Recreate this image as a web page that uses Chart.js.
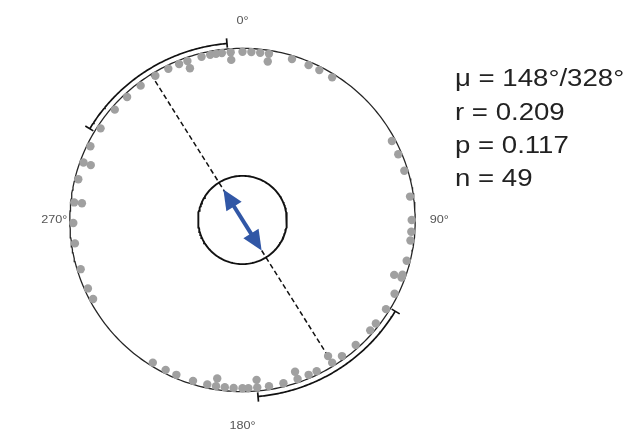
<!DOCTYPE html>
<html>
<head>
<meta charset="utf-8">
<script src="https://cdn.jsdelivr.net/npm/chart.js@4.4.1/dist/chart.umd.min.js"></script>
<style>
  html, body { margin: 0; padding: 0; background: #fff; overflow: hidden; }
  canvas { display: block; }
</style>
</head>
<body>
<canvas id="c" width="633" height="439"></canvas>
<script>
// Orientations in degrees, clockwise from north; a repeated value stacks one dot inward
const pointAngles = [
  0, 3, 6, 9, 9, 17, 23, 27, 32, 62, 67, 73, 82, 90,
  94, 97, 104, 109, 110, 110, 116, 122, 128, 131, 138, 144, 148, 148, 154, 157,
  161, 161, 166, 171, 175, 175, 178, 180,
  183, 186, 189, 189, 192, 197, 203, 207, 212,
  242, 246, 253, 262, 269,
  276, 276, 284, 290, 290, 296, 303, 311, 317, 323, 329, 334, 338, 341, 341,
  346, 349, 351, 353, 356, 356
];
const meanAxis = [148, 328];             // axial mean direction
const meanLength = 0.209;                // mean resultant length r
const ciArcs = [[121, 175], [301, 355]]; // 95% confidence interval of the axis
const criticalRadius = 0.257;            // Rayleigh critical radius
const compassLabels = ['0°', '90°', '180°', '270°'];
const compassAngles = [0, 90, 180, 270];
const statLines = ['μ = 148°/328°', 'r = 0.209', 'p = 0.117', 'n = 49'];

const rad = d => d * Math.PI / 180;
const polar = (deg, r) => ({ x: r * Math.sin(rad(deg)), y: r * Math.cos(rad(deg)) });

function arcPoints(from, to, r, step) {
  const pts = [];
  for (let a = from; a <= to + 1e-9; a += step) pts.push(polar(a, r));
  return pts;
}

// dot radii: first occurrence sits on the rim, repeats move inward
const seen = {};
const dotData = pointAngles.map(a => {
  const k = seen[a] || 0;
  seen[a] = k + 1;
  return polar(a, 0.98 - 0.045 * k);
});

const lineDs = (data, color, width, extra) => Object.assign({
  type: 'scatter', data, showLine: true, pointRadius: 0, borderColor: color,
  borderWidth: width, fill: false, tension: 0
}, extra || {});

const datasets = [
  { type: 'scatter', data: dotData, pointRadius: 4.2, pointHoverRadius: 4.2,
    backgroundColor: '#a0a0a0', borderWidth: 0, showLine: false },
  lineDs(arcPoints(0, 360, 1, 1), '#262626', 1.3),
  lineDs(arcPoints(0, 360, criticalRadius, 2), '#111', 1.9),
  lineDs([polar(meanAxis[1], 1), polar(meanAxis[0], 1)], '#111', 1.5, { borderDash: [5, 3] })
];
ciArcs.forEach(([a, b]) => {
  datasets.push(lineDs(arcPoints(a, b, 1.032, 0.5), '#111', 1.7));
  datasets.push(lineDs([polar(a, 1.008), polar(a, 1.062)], '#111', 1.7));
  datasets.push(lineDs([polar(b, 1.008), polar(b, 1.062)], '#111', 1.7));
});

const overlay = {
  id: 'overlay',
  afterDatasetsDraw(chart) {
    const ctx = chart.ctx;
    const sx = chart.scales.x, sy = chart.scales.y;
    const px = p => ({ x: sx.getPixelForValue(p.x), y: sy.getPixelForValue(p.y) });

    // double-headed mean vector
    const t1 = px(polar(meanAxis[1], meanLength));
    const t2 = px(polar(meanAxis[0], meanLength));
    const dx = t2.x - t1.x, dy = t2.y - t1.y, L = Math.hypot(dx, dy);
    const ux = dx / L, uy = dy / L, nx = -uy, ny = ux;
    const headLen = 20, headHalf = 9;
    ctx.save();
    ctx.fillStyle = '#3157a6';
    ctx.strokeStyle = '#3157a6';
    ctx.lineWidth = 4;
    ctx.beginPath();
    ctx.moveTo(t1.x + ux * (headLen - 2), t1.y + uy * (headLen - 2));
    ctx.lineTo(t2.x - ux * (headLen - 2), t2.y - uy * (headLen - 2));
    ctx.stroke();
    [[t1, 1], [t2, -1]].forEach(([t, s]) => {
      const bx = t.x + s * ux * headLen, by = t.y + s * uy * headLen;
      ctx.beginPath();
      ctx.moveTo(t.x, t.y);
      ctx.lineTo(bx + nx * headHalf, by + ny * headHalf);
      ctx.lineTo(bx - nx * headHalf, by - ny * headHalf);
      ctx.closePath();
      ctx.fill();
    });
    ctx.restore();

    // compass labels
    const labelR = [1.16, 1.14, 1.2, 1.09];
    ctx.save();
    ctx.fillStyle = '#555';
    ctx.font = '11px "Liberation Sans", Arial, sans-serif';
    ctx.textAlign = 'center';
    ctx.textBaseline = 'middle';
    compassLabels.forEach((t, i) => {
      const p = px(polar(compassAngles[i], labelR[i]));
      ctx.save();
      ctx.translate(p.x, p.y);
      ctx.scale(1.15, 1);
      ctx.fillText(t, 0, 0);
      ctx.restore();
    });
    ctx.restore();

    // statistics block
    ctx.save();
    ctx.fillStyle = '#222';
    ctx.font = '23px "Liberation Sans", Arial, sans-serif';
    ctx.textAlign = 'left';
    ctx.textBaseline = 'alphabetic';
    const baselines = [86, 120, 153, 186];
    statLines.forEach((t, i) => {
      ctx.save();
      ctx.translate(455, baselines[i]);
      ctx.scale(1.2, 1);
      ctx.fillText(t, 0, 0);
      ctx.restore();
    });
    ctx.restore();
  }
};

new Chart(document.getElementById('c'), {
  type: 'scatter',
  data: { datasets },
  options: {
    responsive: false,
    animation: false,
    devicePixelRatio: 1,
    layout: { padding: 0 },
    plugins: { legend: { display: false }, tooltip: { enabled: false } },
    events: [],
    scales: {
      x: { type: 'linear', display: false, min: -241.5 / 175, max: (633 - 241.5) / 175 },
      y: { type: 'linear', display: false, min: -(439 - 220) / 175, max: 220 / 175 }
    }
  },
  plugins: [overlay]
});
</script>
</body>
</html>
